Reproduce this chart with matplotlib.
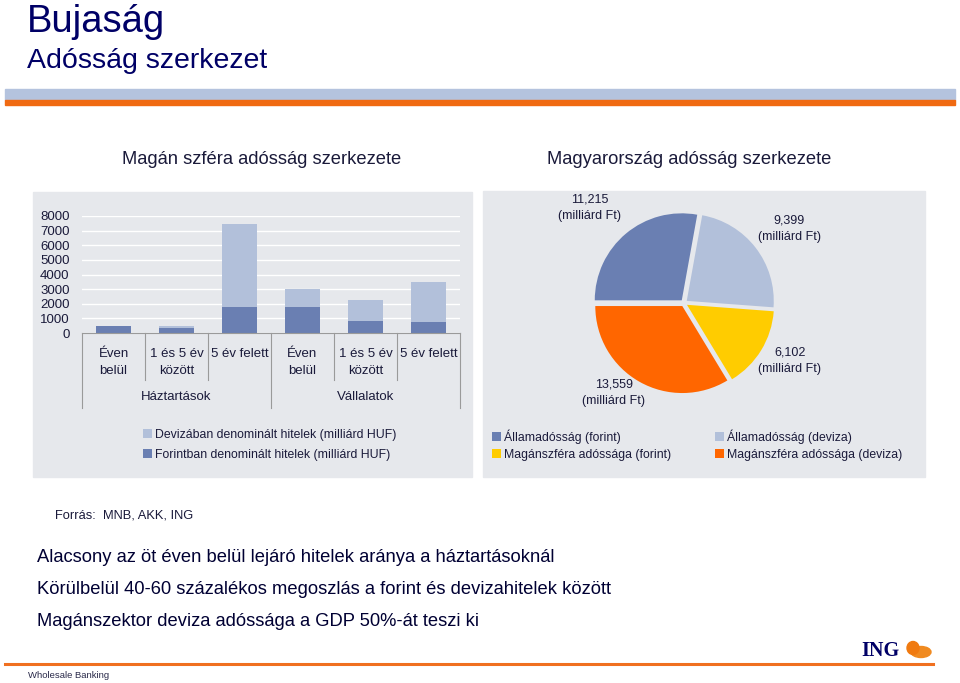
import numpy as np
import matplotlib
matplotlib.use('Agg')
import matplotlib.pyplot as plt
from matplotlib.patches import Rectangle, Ellipse
from matplotlib.lines import Line2D

plt.rcParams['font.family'] = ['Liberation Sans', 'DejaVu Sans']

# --- data ---
categories = ["Éven\nbelül", "1 és 5 év\nközött", "5 év felett",
              "Éven\nbelül", "1 és 5 év\nközött", "5 év felett"]
groups = ["Háztartások", "Vállalatok"]
forint_loans = [480, 330, 1810, 1745, 840, 750]
deviza_loans = [20, 170, 5670, 1270, 1450, 2760]
yticks = [0, 1000, 2000, 3000, 4000, 5000, 6000, 7000, 8000]

pie_labels = ["Államadósság (forint)", "Államadósság (deviza)",
              "Magánszféra adóssága (forint)", "Magánszféra adóssága (deviza)"]
pie_values = [11215, 9399, 6102, 13559]
pie_texts = ["11,215", "9,399", "6,102", "13,559"]

bullets = ["Alacsony az öt éven belül lejáró hitelek aránya a háztartásoknál",
           "Körülbelül 40-60 százalékos megoszlás a forint és devizahitelek között",
           "Magánszektor deviza adóssága a GDP 50%-át teszi ki"]

W, H = 960, 683
def fx(px): return px / W
def fy(py): return 1 - py / H

navy = '#000066'
txt = '#1a1a3a'
panel = '#E6E8EC'
c_dark = '#6A7FB2'
c_light = '#B2C0DA'
c_yellow = '#FFCC00'
c_orange = '#FF6600'

fig = plt.figure(figsize=(9.6, 6.83), dpi=100)

def band(x0, y0, x1, y1, color):
    fig.patches.append(Rectangle((fx(x0), fy(y1)), (x1 - x0) / W, (y1 - y0) / H,
                                 transform=fig.transFigure, color=color, zorder=-1))

# header
fig.text(fx(27), fy(22), "Bujaság", fontsize=27.5, color=navy, va='center')
fig.text(fx(27), fy(61), "Adósság szerkezet", fontsize=20.5, color=navy, va='center')
band(5, 89, 955, 100, '#B4C3DE')
band(5, 100, 955, 105, '#F06A12')

fig.text(fx(262), fy(159), "Magán szféra adósság szerkezete", fontsize=13.2, color=txt,
         ha='center', va='center')
fig.text(fx(689), fy(159), "Magyarország adósság szerkezete", fontsize=13.2, color=txt,
         ha='center', va='center')

# grey panels
band(33, 192, 472, 477, panel)
band(483, 191, 925, 477, panel)

# --- bar chart ---
ax = fig.add_axes([fx(82), fy(333), 378 / W, 117 / H])
ax.patch.set_alpha(0)
x = np.arange(len(categories))
b_forint = ax.bar(x, forint_loans, width=0.57, color=c_dark, zorder=2)
b_deviza = ax.bar(x, deviza_loans, width=0.57, bottom=forint_loans, color=c_light, zorder=2)
ax.set_xlim(-0.5, len(categories) - 0.5)
ax.set_ylim(0, 8000)
ax.set_yticks(yticks)
ax.set_yticklabels([str(v) for v in yticks], fontsize=9.5, color=txt)
ax.set_xticks([])
ax.tick_params(axis='y', length=0, pad=9)
ax.yaxis.grid(True, color='white', lw=1)
ax.set_axisbelow(True)
for s in ['top', 'right', 'left']:
    ax.spines[s].set_visible(False)
ax.spines['bottom'].set_color('#9a9a9a')

tr = ax.get_xaxis_transform()
for i, lab in enumerate(categories):
    ax.text(i, -0.13, lab, transform=tr, ha='center', va='top', fontsize=9.5,
            color=txt, linespacing=1.5)
for k, g in enumerate(groups):
    ax.text(3 * k + 1, -0.55, g, transform=tr, ha='center', va='center', fontsize=9.5, color=txt)
for xb in np.arange(-0.5, len(categories)):
    depth = -0.64 if xb in (-0.5, 2.5, 5.5) else -0.40
    ax.plot([xb, xb], [0, depth], transform=tr, color='#9a9a9a', lw=0.8, clip_on=False)

fig.legend([b_deviza, b_forint],
           ["Devizában denominált hitelek (milliárd HUF)", "Forintban denominált hitelek (milliárd HUF)"],
           loc='upper left', bbox_to_anchor=(fx(143), fy(429)), frameon=False, fontsize=8.8,
           handlelength=0.7, handleheight=0.7, handletextpad=0.3, labelspacing=0.65,
           borderaxespad=0, borderpad=0, labelcolor=txt)

# --- pie chart ---
cx, cy, r = 684, 303, 87
half = 110
pax = fig.add_axes([fx(cx - half), fy(cy + half), 2 * half / W, 2 * half / H])
wedges, _ = pax.pie(pie_values, colors=[c_dark, c_light, c_yellow, c_orange],
                    startangle=180, counterclock=False, explode=[0.04] * 4,
                    wedgeprops=dict(linewidth=0))
pax.set_aspect('equal')
pax.set_xlim(-half / r, half / r)
pax.set_ylim(-half / r, half / r)
pax.axis('off')

label_pos = [(590, 208), (789, 229), (790, 361), (614, 393)]
for (px, py), t in zip(label_pos, pie_texts):
    pax.text((px - cx) / r, (cy - py) / r, t + "\n(milliárd Ft)", ha='center', va='center',
             fontsize=9, color=txt, linespacing=1.5)

fig.legend([wedges[0], wedges[2]], [pie_labels[0], pie_labels[2]],
           loc='upper left', bbox_to_anchor=(fx(492), fy(429)), frameon=False, fontsize=8.8,
           handlelength=0.7, handleheight=0.7, handletextpad=0.3, labelspacing=0.45,
           borderaxespad=0, borderpad=0, labelcolor=txt)
fig.legend([wedges[1], wedges[3]], [pie_labels[1], pie_labels[3]],
           loc='upper left', bbox_to_anchor=(fx(715), fy(429)), frameon=False, fontsize=8.8,
           handlelength=0.7, handleheight=0.7, handletextpad=0.3, labelspacing=0.45,
           borderaxespad=0, borderpad=0, labelcolor=txt)

# --- notes ---
fig.text(fx(55), fy(516), "Forrás:  MNB, AKK, ING", fontsize=9.3, color=txt, va='center')
for i, b in enumerate(bullets):
    fig.text(fx(37), fy(557 + 32.5 * i), b, fontsize=13.2, color='#000033', va='center')

# footer
fig.add_artist(Line2D([fx(5), fx(933)], [fy(664), fy(664)], color='#F07020', lw=2.2))
fig.text(fx(28), fy(675), "Wholesale Banking", fontsize=6.8, color='#2a2a4a', va='center')
fig.text(fx(861), fy(651), "ING", fontsize=14.5, fontweight='bold', color=navy, va='center',
         family='Liberation Serif')
fig.add_artist(Ellipse((fx(921), fy(652)), 20 / W, 11 / H, transform=fig.transFigure,
                       color='#F08A20'))
fig.add_artist(Ellipse((fx(913), fy(648)), 12 / W, 13 / H, transform=fig.transFigure,
                       color='#F07A10'))

fig.savefig('out.png', dpi=100)
